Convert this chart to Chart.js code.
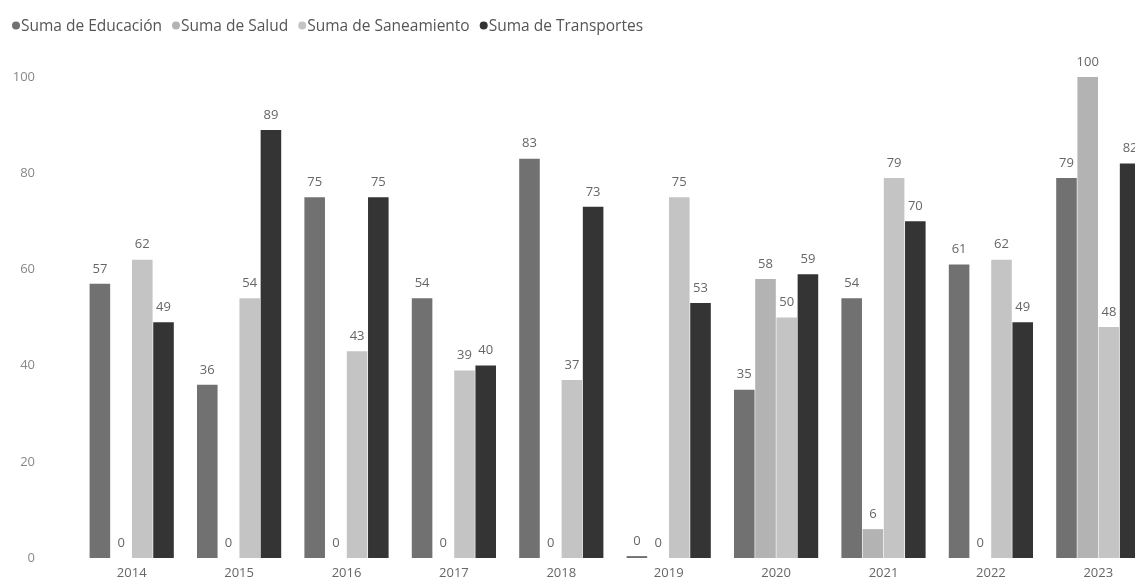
<!DOCTYPE html>
<html lang="es">
<head>
<meta charset="utf-8">
<title>Suma por año</title>
<script src="https://cdn.jsdelivr.net/npm/chart.js@4.4.1/dist/chart.umd.min.js"></script>
<style>
    html, body { margin: 0; padding: 0; background: #fff; overflow: hidden; }
    #chart { display: block; }
</style>
</head>
<body>
<canvas id="chart" width="1152" height="579"></canvas>
<script>
// Chart data
const years = ['2014', '2015', '2016', '2017', '2018', '2019', '2020', '2021', '2022', '2023'];
const educacion = [57, 36, 75, 54, 83, 0.4, 35, 54, 61, 79];
const salud = [0, 0, 0, 0, 0, 0, 58, 6, 0, 100];
const saneamiento = [62, 54, 43, 39, 37, 75, 50, 79, 62, 48];
const transportes = [49, 89, 75, 40, 73, 53, 59, 70, 49, 82];
const yTicks = [0, 20, 40, 60, 80, 100];

const FONT = '"Open Sans", "Segoe UI", sans-serif';

// Value labels above each bar
const valueLabels = {
    id: 'valueLabels',
    afterDatasetsDraw(chart) {
        const ctx = chart.ctx;
        ctx.save();
        ctx.font = '13px ' + FONT;
        ctx.fillStyle = '#666';
        ctx.textAlign = 'center';
        ctx.textBaseline = 'middle';
        chart.data.datasets.forEach((ds, i) => {
            chart.getDatasetMeta(i).data.forEach((bar, j) => {
                ctx.fillText(String(Math.round(ds.data[j])), bar.x, bar.y - 15);
            });
        });
        ctx.restore();
    }
};

// Compact legend: dot right next to its text
const dotLegend = {
    id: 'dotLegend',
    afterDraw(chart) {
        const ctx = chart.ctx;
        ctx.save();
        ctx.font = '15.5px ' + FONT;
        ctx.textAlign = 'left';
        ctx.textBaseline = 'middle';
        let x = 12;
        chart.data.datasets.forEach(ds => {
            ctx.fillStyle = ds.backgroundColor;
            ctx.beginPath();
            ctx.arc(x + 4, 25.5, 4, 0, Math.PI * 2);
            ctx.fill();
            ctx.fillStyle = '#555';
            ctx.fillText(ds.label, x + 9, 27);
            x += 9 + ctx.measureText(ds.label).width + 10;
        });
        ctx.restore();
    }
};

const ctx = document.getElementById('chart').getContext('2d');
new Chart(ctx, {
    type: 'bar',
    data: {
        labels: years,
        datasets: [
            { label: 'Suma de Educación', data: educacion, backgroundColor: '#717171' },
            { label: 'Suma de Salud', data: salud, backgroundColor: '#b3b3b3' },
            { label: 'Suma de Saneamiento', data: saneamiento, backgroundColor: '#c4c4c4' },
            { label: 'Suma de Transportes', data: transportes, backgroundColor: '#343434' }
        ]
    },
    options: {
        responsive: false,
        animation: false,
        devicePixelRatio: 1,
        layout: { padding: { left: 7, top: 77, right: 0, bottom: 0 } },
        datasets: {
            bar: { categoryPercentage: 0.79, barPercentage: 0.97 }
        },
        plugins: {
            legend: { display: false },
            tooltip: { enabled: false }
        },
        scales: {
            x: {
                grid: { display: false, drawTicks: false },
                border: { display: false },
                ticks: { color: '#666', padding: 7, font: { family: FONT, size: 13 } },
                afterFit: (scale) => { scale.height = 21; }
            },
            y: {
                min: 0,
                max: 100,
                // hidden tick marks only push the labels left
                grid: { display: false, drawTicks: true, tickLength: 39 },
                border: { display: false },
                ticks: {
                    color: '#888',
                    padding: 4,
                    font: { family: FONT, size: 13 }
                },
                afterBuildTicks: (scale) => {
                    scale.ticks = yTicks.map(v => ({ value: v }));
                },
                afterFit: (scale) => { scale.width = 71; }
            }
        }
    },
    plugins: [valueLabels, dotLegend]
});
</script>
</body>
</html>
